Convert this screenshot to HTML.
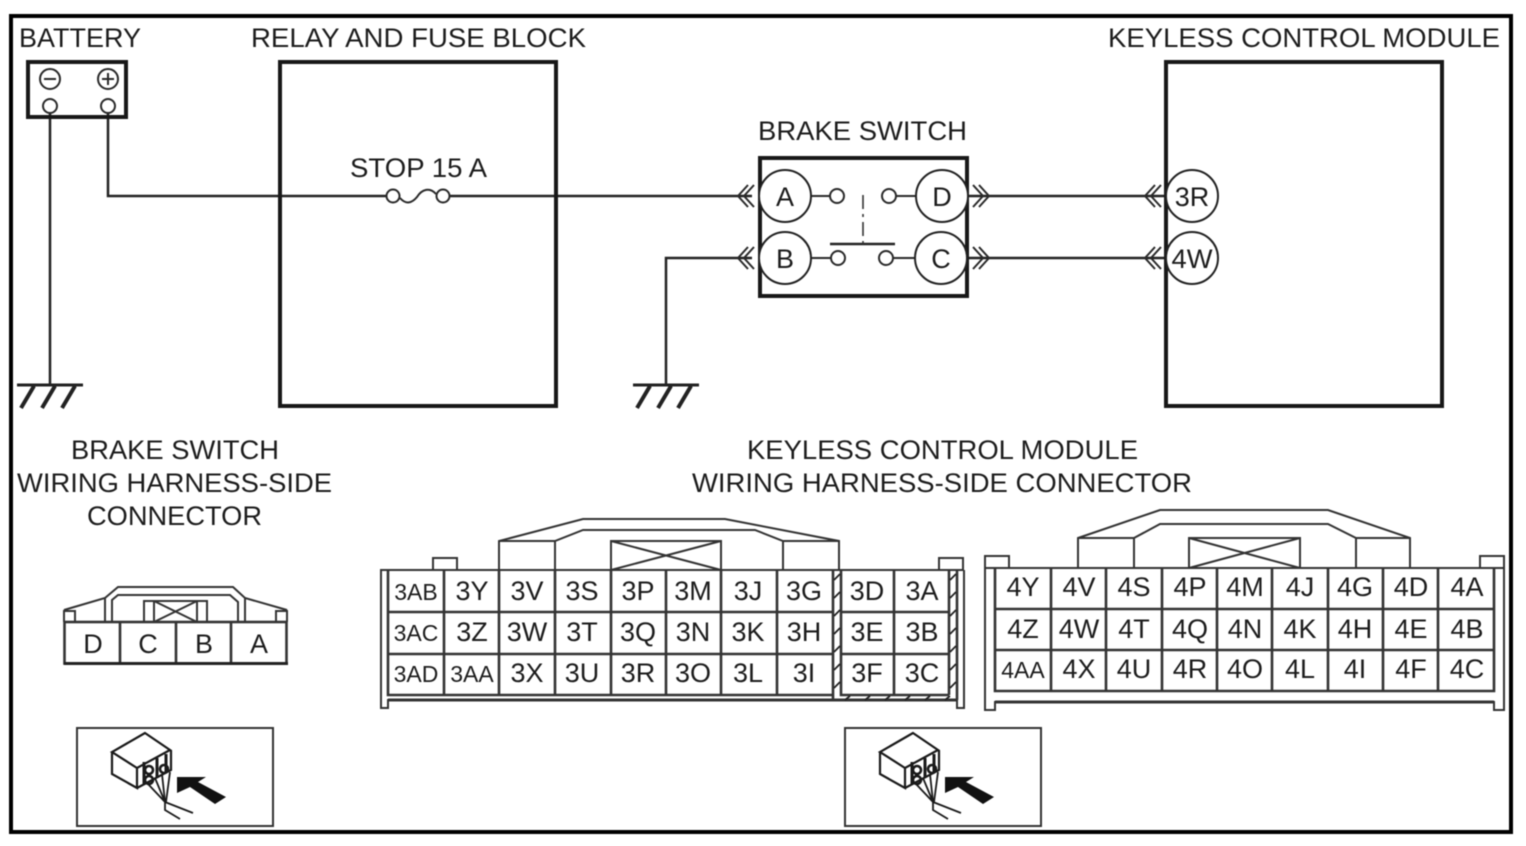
<!DOCTYPE html>
<html><head><meta charset="utf-8"><style>
html,body{margin:0;padding:0;background:#fff}
svg{display:block;filter:blur(0.45px)}
text{font-family:"Liberation Sans",sans-serif;fill:#1c1c1c}
.t{font-size:27px}
.c{font-size:27px;text-anchor:middle}
.s{font-size:23px;text-anchor:middle}
.w{fill:none;stroke:#222;stroke-width:2.5}
.b{fill:none;stroke:#181818;stroke-width:4}
.l{fill:none;stroke:#2a2a2a;stroke-width:2}
.g{fill:none;stroke:#333;stroke-width:2.6}
</style></head><body>
<svg width="1526" height="846" viewBox="0 0 1526 846" xmlns="http://www.w3.org/2000/svg">
<rect width="1526" height="846" fill="#fff"/>
<rect x="11" y="16" width="1500" height="816" fill="none" stroke="#000" stroke-width="4"/>

<!-- titles -->
<text class="t" x="19" y="47" textLength="122" lengthAdjust="spacingAndGlyphs">BATTERY</text>
<text class="t" x="251" y="47" textLength="335" lengthAdjust="spacingAndGlyphs">RELAY AND FUSE BLOCK</text>
<text class="t" x="1108" y="47" textLength="392" lengthAdjust="spacingAndGlyphs">KEYLESS CONTROL MODULE</text>
<text class="t" x="758" y="140" textLength="209" lengthAdjust="spacingAndGlyphs">BRAKE SWITCH</text>
<text class="t" x="350" y="177" textLength="137" lengthAdjust="spacingAndGlyphs">STOP 15 A</text>
<text class="t" x="71" y="459" textLength="208" lengthAdjust="spacingAndGlyphs">BRAKE SWITCH</text>
<text class="t" x="17" y="492" textLength="315" lengthAdjust="spacingAndGlyphs">WIRING HARNESS-SIDE</text>
<text class="t" x="87" y="525" textLength="175" lengthAdjust="spacingAndGlyphs">CONNECTOR</text>
<text class="t" x="747" y="459" textLength="391" lengthAdjust="spacingAndGlyphs">KEYLESS CONTROL MODULE</text>
<text class="t" x="692" y="492" textLength="500" lengthAdjust="spacingAndGlyphs">WIRING HARNESS-SIDE CONNECTOR</text>

<!-- wires -->
<path class="w" d="M50 113V385M108 113V196H387M450 196H752M666 385V258H752M967 196H1165M967 258H1165"/>

<!-- boxes -->
<rect class="b" x="28" y="62" width="98" height="55"/>
<rect class="b" x="280" y="62" width="276" height="344"/>
<rect class="b" x="760" y="158" width="207" height="138"/>
<rect class="b" x="1166" y="62" width="276" height="344"/>

<!-- battery -->
<circle cx="50" cy="79" r="10" class="l"/><path class="l" d="M44 79H56"/>
<circle cx="108" cy="79" r="10" class="l"/><path class="l" d="M102 79H114M108 73V85"/>
<circle cx="50" cy="106" r="7" class="l" style="fill:#fff"/>
<circle cx="108" cy="106" r="7" class="l" style="fill:#fff"/>

<!-- grounds -->
<g fill="none" stroke="#222" stroke-linecap="butt">
<path stroke-width="3" d="M17 385H83M633 385H699"/>
<path stroke-width="4" d="M34 386L21 408M55 386L42 408M75 386L62 408M650 386L637 408M671 386L658 408M691 386L678 408"/>
</g>

<!-- fuse -->
<circle cx="393" cy="196" r="6.5" class="l" style="fill:#fff"/>
<circle cx="443" cy="196" r="6.5" class="l" style="fill:#fff"/>
<path class="l" d="M400 198C406 205 412 203 417 197C422 189 430 187 436 194"/>

<!-- chevrons -->
<g class="l">
<path d="M748 185L738 196L748 207M754 185L744 196L754 207"/>
<path d="M748 247L738 258L748 269M754 247L744 258L754 269"/>
<path d="M973 185L983 196L973 207M979 185L989 196L979 207"/>
<path d="M973 247L983 258L973 269M979 247L989 258L979 269"/>
<path d="M1155 185L1145 196L1155 207M1161 185L1151 196L1161 207"/>
<path d="M1155 247L1145 258L1155 269M1161 247L1151 258L1161 269"/>
</g>

<!-- switch -->
<path class="l" d="M811 196H830M811 258H831M896 196H916M893 258H916"/>
<circle cx="837" cy="196" r="7" class="l" style="fill:#fff"/>
<circle cx="889" cy="196" r="7" class="l" style="fill:#fff"/>
<circle cx="838" cy="258" r="7" class="l" style="fill:#fff"/>
<circle cx="886" cy="258" r="7" class="l" style="fill:#fff"/>
<path d="M830 244H895" stroke="#222" stroke-width="2.5" fill="none"/>
<path d="M863 195V244" stroke="#333" stroke-width="1.6" stroke-dasharray="14 5 3 5" fill="none"/>

<g fill="#fff" stroke="#222" stroke-width="2">
<circle cx="785" cy="196" r="26"/><circle cx="785" cy="258" r="26"/>
<circle cx="942" cy="196" r="26"/><circle cx="941" cy="258" r="26"/>
<circle cx="1192" cy="196" r="26"/><circle cx="1192" cy="258" r="26"/>
</g>
<text class="c" x="785" y="206">A</text><text class="c" x="785" y="268">B</text>
<text class="c" x="942" y="206">D</text><text class="c" x="941" y="268">C</text>
<text class="c" x="1192" y="206">3R</text><text class="c" x="1192" y="268" textLength="41" lengthAdjust="spacingAndGlyphs">4W</text>

<!-- brake connector -->
<g class="g" style="stroke-width:2">
<path d="M64 610L105 598L118 587H233L245 598L287 610"/>
<path d="M105 598V622M112 622V600L118 595H230L238 602V622M245 598V622"/>
<path d="M144 622V601H207V622M154 601V622M197 601V622M154 601L197 622M197 601L154 622"/>
<path d="M64 622V611H75V622M276 622V611H287V622"/>
</g>
<rect x="64.500" y="622" width="222" height="41.500" fill="#fff" class="g"/>
<path class="g" d="M120 622V664M176 622V664M231 622V664"/>
<path stroke="#222" stroke-width="3" d="M64 663.500H288"/>
<text class="c" x="93" y="653">D</text><text class="c" x="148" y="653">C</text><text class="c" x="204" y="653">B</text><text class="c" x="259" y="653">A</text>

<!-- 3 connector -->
<g class="g" style="stroke-width:2">
<path d="M499 570V541L583 519H725L839 541V570M499 541H555L583 530H755L783 541H839M555 541V570M783 541V570"/>
<rect x="611" y="541" width="110" height="29"/>
<path d="M611 541L721 570M721 541L611 570"/>
<path d="M433 570V558H457V570M939 570V558H963V570"/>
<path d="M380 570H964M381 570V708H388V700H957V708H964V570"/>
<path stroke-width="3" d="M388 700H957"/>
</g>
<path class="g" d="M388 570V695H833M444 570V695M499 570V695M555 570V695M611 570V695M666 570V695M721 570V695M777 570V695M833 570V700M841 570V695H949M841 612H949M388 612H833M388 654H833M841 654H949M894 570V695M949 570V695M957 570V700"/>
<g stroke="#222" stroke-width="1.8" fill="none">
<path d="M834 580L840 574M834 598L840 592M834 616L840 610M834 634L840 628M834 652L840 646M834 670L840 664M834 688L840 682M950 580L956 574M950 598L956 592M950 616L956 610M950 634L956 628M950 652L956 646M950 670L956 664M950 688L956 682"/>
<path d="M845 700L850 696M865 700L870 696M885 700L890 696M905 700L910 696M925 700L930 696M945 700L950 696"/>
</g>
<g>
<text class="s" x="416" y="600">3AB</text><text class="c" x="472" y="600">3Y</text><text class="c" x="527" y="600">3V</text><text class="c" x="582" y="600">3S</text><text class="c" x="638" y="600">3P</text><text class="c" x="693" y="600">3M</text><text class="c" x="748" y="600">3J</text><text class="c" x="804" y="600">3G</text><text class="c" x="867" y="600">3D</text><text class="c" x="922" y="600">3A</text>
<text class="s" x="416" y="641">3AC</text><text class="c" x="472" y="641">3Z</text><text class="c" x="527" y="641">3W</text><text class="c" x="582" y="641">3T</text><text class="c" x="638" y="641">3Q</text><text class="c" x="693" y="641">3N</text><text class="c" x="748" y="641">3K</text><text class="c" x="804" y="641">3H</text><text class="c" x="867" y="641">3E</text><text class="c" x="922" y="641">3B</text>
<text class="s" x="416" y="682">3AD</text><text class="s" x="472" y="682">3AA</text><text class="c" x="527" y="682">3X</text><text class="c" x="582" y="682">3U</text><text class="c" x="638" y="682">3R</text><text class="c" x="693" y="682">3O</text><text class="c" x="748" y="682">3L</text><text class="c" x="804" y="682">3I</text><text class="c" x="867" y="682">3F</text><text class="c" x="922" y="682">3C</text>
</g>

<!-- 4 connector -->
<g class="g" style="stroke-width:2">
<path d="M1078 568V538L1160 510H1328L1410 538V568M1078 538H1134L1160 524H1328L1356 538H1410M1134 538V568M1356 538V568"/>
<rect x="1189" y="538" width="111" height="30"/>
<path d="M1189 538L1300 568M1300 538L1189 568"/>
<path d="M985 568V556H1009V568M1480 568V556H1504V568"/>
<path d="M985 568H1504M985 568V710H995V702H1494V710H1504V568"/>
<path stroke-width="3" d="M995 702H1494"/>
</g>
<path class="g" d="M995 568V691H1494V568M1051 568V691M1106 568V691M1162 568V691M1217 568V691M1272 568V691M1328 568V691M1383 568V691M1438 568V691M995 609H1494M995 650H1494"/>
<g>
<text class="c" x="1023" y="596">4Y</text><text class="c" x="1079" y="596">4V</text><text class="c" x="1134" y="596">4S</text><text class="c" x="1190" y="596">4P</text><text class="c" x="1245" y="596">4M</text><text class="c" x="1300" y="596">4J</text><text class="c" x="1355" y="596">4G</text><text class="c" x="1411" y="596">4D</text><text class="c" x="1467" y="596">4A</text>
<text class="c" x="1023" y="638">4Z</text><text class="c" x="1079" y="638">4W</text><text class="c" x="1134" y="638">4T</text><text class="c" x="1190" y="638">4Q</text><text class="c" x="1245" y="638">4N</text><text class="c" x="1300" y="638">4K</text><text class="c" x="1355" y="638">4H</text><text class="c" x="1411" y="638">4E</text><text class="c" x="1467" y="638">4B</text>
<text class="s" x="1023" y="678">4AA</text><text class="c" x="1079" y="678">4X</text><text class="c" x="1134" y="678">4U</text><text class="c" x="1190" y="678">4R</text><text class="c" x="1245" y="678">4O</text><text class="c" x="1300" y="678">4L</text><text class="c" x="1355" y="678">4I</text><text class="c" x="1411" y="678">4F</text><text class="c" x="1467" y="678">4C</text>
</g>

<!-- thumbnails -->
<defs>
<g id="thumb">
<rect x="77" y="728" width="196" height="98" fill="#fff" stroke="#333" stroke-width="2"/>
<g fill="none" stroke="#1a1a1a" stroke-width="2.2">
<path d="M145 733L112 752L137 768L170 750ZM112 752V774L137 788V768M137 788L171 770V750"/>
<path stroke-width="3" d="M144 762V785M157 758V778M166 754V772"/>
<circle cx="149" cy="770" r="4" stroke-width="2.6"/><circle cx="164" cy="769" r="4" stroke-width="2.6"/><circle cx="149" cy="780" r="4" stroke-width="2.6"/>
<path stroke-width="1.8" d="M148 784L165 802M155 778L165 802M162 774L165 802M170 772L166 802M165 802L193 813M165 802V810L180 819"/>
</g>
<path d="M177 777H206L198 782L226 797L215 804L190 787L177 793Z" fill="#111"/>
</g>
</defs>
<use href="#thumb"/>
<use href="#thumb" x="768"/>
</svg>
</body></html>
